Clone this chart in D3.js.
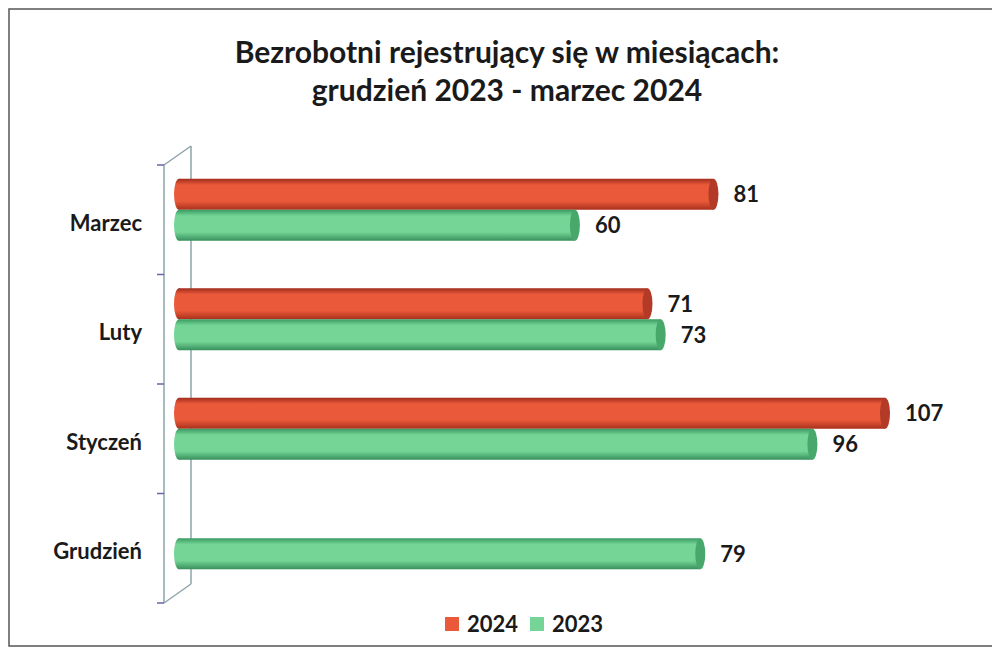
<!DOCTYPE html>
<html>
<head>
<meta charset="utf-8">
<script src="https://cdn.jsdelivr.net/npm/d3@7"></script>
<style>
  body { margin: 0; background: #fff; }
  svg { display: block; font-family: Lato, "Open Sans", sans-serif; }
</style>
</head>
<body>
<div class="canvas"><svg width="992" height="651"></svg></div>
<script>
var width = 992;
var height = 651;

// data
var months = ["Marzec", "Luty", "Styczeń", "Grudzień"];
var series = ["2024", "2023"];
var values2024 = [81, 71, 107, null];
var values2023 = [60, 73, 96, 79];
var titleLines = ["Bezrobotni rejestrujący się w miesiącach:", "grudzień 2023 - marzec 2024"];

var colors = { "2024": ["#a02c1c", "#ea5a3a", "#a9301c"], "2023": ["#3a9a62", "#74d596", "#38905c"] };
var capColors = { "2024": "#b23a26", "2023": "#48a86c" };

var svg = d3.select(".canvas").select("svg");
var defs = svg.append("defs");

series.forEach(function(s){
    var grad = defs.append("linearGradient")
        .attr("id", "cyl" + s)
        .attr("x1", 0).attr("y1", 0).attr("x2", 0).attr("y2", 1);
    grad.append("stop").attr("offset", "0%").attr("stop-color", colors[s][0]);
    grad.append("stop").attr("offset", "20%").attr("stop-color", colors[s][1]);
    grad.append("stop").attr("offset", "72%").attr("stop-color", colors[s][1]);
    grad.append("stop").attr("offset", "100%").attr("stop-color", colors[s][2]);
});

// frame
svg.append("rect")
    .attr("x", 9).attr("y", 9)
    .attr("width", 1000).attr("height", 637)
    .style("fill", "none")
    .style("stroke", "#555")
    .style("stroke-width", 1.5);

// title
svg.append("g").selectAll("text")
    .data(titleLines)
    .enter()
    .append("text")
    .attr("x", 507)
    .attr("y", function(d, i){ return 63 + i * 38; })
    .attr("text-anchor", "middle")
    .style("font-size", "30px")
    .style("font-weight", "bold")
    .style("fill", "#1a1a1a")
    .text(function(d){ return d; });

// scales
var scaleY = d3.scaleBand()
    .domain(months)
    .range([165, 603]);

var scaleSeries = d3.scaleBand()
    .domain(series)
    .range([-31, 31]);

var scaleX = d3.scaleLinear()
    .domain([0, 107])
    .range([179, 885]);

// 3d axis wall
var depthX = 27, depthY = -19;
var wall = svg.append("g").attr("class", "axis-wall")
    .style("stroke", "#8ea4aa")
    .style("stroke-width", 1.5)
    .style("fill", "none");
wall.append("line").attr("x1", 164).attr("y1", 165).attr("x2", 164).attr("y2", 603);
wall.append("line").attr("x1", 164 + depthX).attr("y1", 165 + depthY).attr("x2", 164 + depthX).attr("y2", 603 + depthY);
wall.append("line").attr("x1", 164).attr("y1", 165).attr("x2", 164 + depthX).attr("y2", 165 + depthY);
wall.append("line").attr("x1", 164).attr("y1", 603).attr("x2", 164 + depthX).attr("y2", 603 + depthY);

var tickPos = months.map(function(m){ return scaleY(m); }).concat([scaleY.range()[1]]);
svg.append("g").selectAll("line")
    .data(tickPos)
    .enter()
    .append("line")
    .attr("x1", 157).attr("x2", 164)
    .attr("y1", function(d){ return d; })
    .attr("y2", function(d){ return d; })
    .style("stroke", "#6a63a8")
    .style("stroke-width", 1.5);

// category labels
svg.append("g").selectAll("text")
    .data(months)
    .enter()
    .append("text")
    .attr("x", 142)
    .attr("y", function(d){ return scaleY(d) + scaleY.bandwidth() / 2 + 11; })
    .attr("text-anchor", "end")
    .style("font-size", "22px")
    .style("font-weight", "bold")
    .style("fill", "#1a1a1a")
    .text(function(d){ return d; });

// bars
var barData = [];
months.forEach(function(m, i){
    if (values2024[i] != null) barData.push({ month: m, series: "2024", value: values2024[i] });
    if (values2023[i] != null) barData.push({ month: m, series: "2023", value: values2023[i] });
});

var rx = 5;
var plot = svg.append("g").attr("class", "bars");
var bars = plot.selectAll(".bar")
    .data(barData)
    .enter()
    .append("g")
    .attr("class", "bar")
    .attr("transform", function(d){
        var y = scaleY(d.month) + scaleY.bandwidth() / 2 - 10 + scaleSeries(d.series);
        return "translate(0," + y + ")";
    });

var bh = scaleSeries.bandwidth();

bars.append("ellipse")
    .attr("cx", scaleX(0))
    .attr("cy", bh / 2)
    .attr("rx", rx)
    .attr("ry", bh / 2)
    .style("fill", function(d){ return "url(#cyl" + d.series + ")"; });

bars.append("rect")
    .attr("x", scaleX(0))
    .attr("y", 0)
    .attr("width", function(d){ return scaleX(d.value) - scaleX(0); })
    .attr("height", bh)
    .style("fill", function(d){ return "url(#cyl" + d.series + ")"; });

bars.append("ellipse")
    .attr("cx", function(d){ return scaleX(d.value); })
    .attr("cy", bh / 2)
    .attr("rx", rx)
    .attr("ry", bh / 2)
    .style("fill", function(d){ return capColors[d.series]; });

// value labels
bars.append("text")
    .attr("x", function(d){ return scaleX(d.value) + rx + 15; })
    .attr("y", bh / 2 + 8)
    .style("font-size", "22px")
    .style("font-weight", "bold")
    .style("fill", "#1a1a1a")
    .text(function(d){ return d.value; });

// legend
var legendX = [445, 530];
var legend = svg.append("g").attr("class", "legend")
    .selectAll("g")
    .data(series)
    .enter()
    .append("g")
    .attr("transform", function(d, i){ return "translate(" + legendX[i] + ",625)"; });
legend.append("rect")
    .attr("x", 0).attr("y", -8)
    .attr("width", 14).attr("height", 14)
    .style("fill", function(d){ return colors[d][1]; });
legend.append("text")
    .attr("x", 22)
    .attr("y", 7)
    .style("font-size", "22px")
    .style("font-weight", "bold")
    .style("fill", "#1a1a1a")
    .text(function(d){ return d; });
</script>
</body>
</html>
